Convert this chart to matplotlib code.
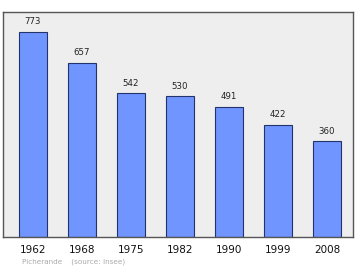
import matplotlib
matplotlib.use('Agg')
import matplotlib.pyplot as plt

# données population
years = ['1962', '1968', '1975', '1982', '1990', '1999', '2008']
population = [773, 657, 542, 530, 491, 422, 360]
commune = 'Picherande'
source = '(source: Insee)'

fig = plt.figure(figsize=(3.6, 2.7), dpi=100)
ax = fig.add_axes([0.0097, 0.122, 0.971, 0.834])
ax.set_facecolor('#eeeeee')

x = range(len(years))
ax.bar(x, population, width=0.57, color='#7095ff', edgecolor='#23336b', linewidth=0.8, zorder=2)

# valeurs au-dessus des barres
for i, v in enumerate(population):
    ax.annotate(str(v), (i, v), xytext=(0, 4), textcoords='offset points',
                ha='center', va='bottom', fontsize=6.2, color='#222222')

ax.set_xlim(-0.6, 6.53)
ax.set_ylim(0, 848)
ax.set_yticks([])
ax.set_xticks(list(x))
ax.set_xticklabels(years, fontsize=7.5, color='#111111')
ax.tick_params(axis='x', length=0, pad=6)
for s in ax.spines.values():
    s.set_color('#555555')
    s.set_linewidth(1.0)

fig.text(0.06, 0.025, commune + '    ' + source, fontsize=5.2, color='#aaaaaa')

fig.savefig('out.png', dpi=100)
